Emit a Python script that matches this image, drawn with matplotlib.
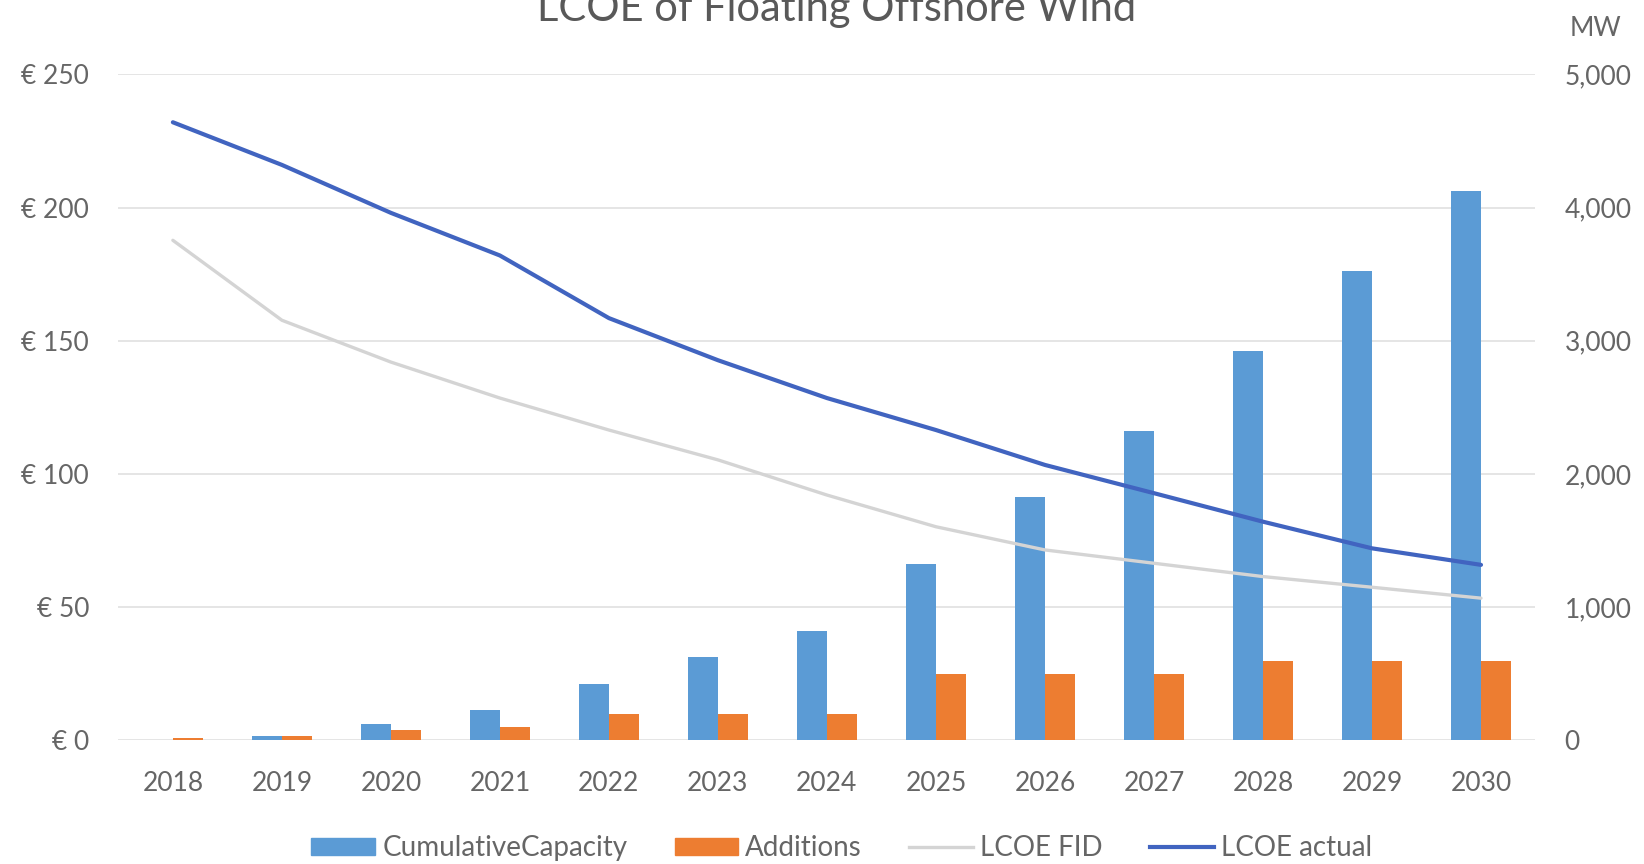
import matplotlib.pyplot as plt
import numpy as np
from matplotlib.lines import Line2D
from matplotlib.patches import Patch

plt.rcParams['font.family'] = ['Lato', 'DejaVu Sans']

years = ['2018', '2019', '2020', '2021', '2022', '2023', '2024',
         '2025', '2026', '2027', '2028', '2029', '2030']
# MW
cumulative_capacity = [0, 30, 125, 225, 425, 625, 825, 1325, 1825, 2325, 2925, 3525, 4125]
additions = [20, 30, 75, 100, 200, 200, 200, 500, 500, 500, 600, 600, 600]
# EUR/MWh
lcoe_fid = [187.7, 157.7, 142, 128.5, 116.5, 105.3, 92.1, 80.2, 71.5, 66.5, 61.5, 57.5, 53.4]
lcoe_actual = [232, 216, 198, 182, 158.5, 142.7, 128.5, 116.5, 103.4, 92.8, 82.1, 72.1, 65.9]

txt = '#666666'
blue = '#5B9BD5'
orange = '#ED7D31'
grey_line = '#D4D4D4'
dark_blue = '#4164C0'

fig = plt.figure(figsize=(16.44, 8.64), dpi=100)
ax_mw = fig.add_axes([0.072, 0.143, 0.862, 0.771])
ax_eur = ax_mw.twinx()

x = np.arange(len(years))
w = 0.275

# bars on the MW axis, behind the lines
ax_mw.bar(x - w / 2, cumulative_capacity, w, color=blue, zorder=3)
ax_mw.bar(x + w / 2, additions, w, color=orange, zorder=3)
ax_mw.set_ylim(0, 5000)
ax_mw.set_yticks(np.arange(0, 5001, 1000))
ax_mw.set_yticklabels([f'{v:,}' for v in range(0, 5001, 1000)])
ax_mw.yaxis.tick_right()
ax_mw.grid(axis='y', color='#E3E3E3', linewidth=1.3, zorder=0)
ax_mw.set_axisbelow(True)

ax_eur.plot(x, lcoe_fid, color=grey_line, linewidth=2.4, solid_capstyle='round')
ax_eur.plot(x, lcoe_actual, color=dark_blue, linewidth=3, solid_capstyle='round')
ax_eur.set_ylim(0, 250)
ax_eur.set_yticks(np.arange(0, 251, 50))
ax_eur.set_yticklabels([f'€ {v}' for v in range(0, 251, 50)])
ax_eur.yaxis.tick_left()

ax_mw.set_xlim(-0.5, len(years) - 0.5)
ax_mw.set_xticks(x)
ax_mw.set_xticklabels(years)

for a in (ax_mw, ax_eur):
    for s in a.spines.values():
        s.set_visible(False)
    a.tick_params(length=0, labelsize=19, labelcolor=txt)
ax_mw.tick_params(axis='x', pad=22)
ax_mw.tick_params(axis='y', pad=21)
ax_eur.tick_params(axis='y', pad=21)

fig.text(0.509, 1 - 21 / 864, 'LCOE of Floating Offshore Wind', ha='center',
         va='baseline', fontsize=30, color='#595959')
fig.text(0.955, 1 - 29 / 864, 'MW', ha='left', va='center', fontsize=19, color=txt)

handles = [Patch(color=blue, label='CumulativeCapacity'),
           Patch(color=orange, label='Additions'),
           Line2D([], [], color=grey_line, linewidth=2.4, label='LCOE FID'),
           Line2D([], [], color=dark_blue, linewidth=3, label='LCOE actual')]
leg = fig.legend(handles=handles, loc='center', bbox_to_anchor=(0.512, 1 - 848 / 864),
                 ncol=4, frameon=False, fontsize=20, handlelength=2.3,
                 handleheight=0.55, handletextpad=0.25, columnspacing=1.7)
for t in leg.get_texts():
    t.set_color(txt)

fig.savefig('out.png', dpi=100)
